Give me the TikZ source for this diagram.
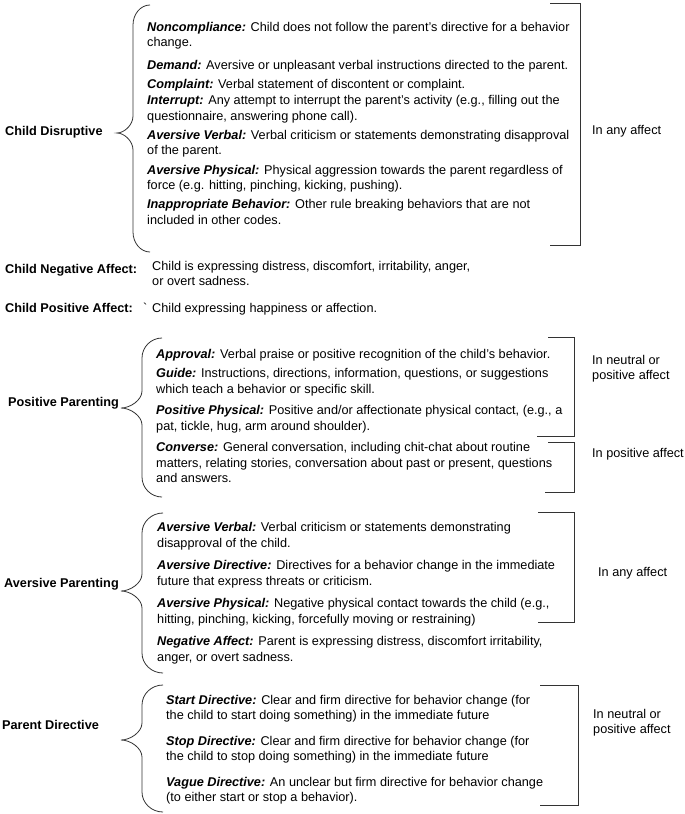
\documentclass[tikz,border=0pt]{standalone}
\usepackage{fontspec}
\setmainfont{Liberation Sans}
\newfontfamily\rawfont{Liberation Sans}
\newcommand\kterm[1]{\textbf{\textit{#1}}}
\newcommand\cbrace[6]{% E V T yt ym yb
  \draw[ln] (#1,#4) .. controls ({#2+0.45*(#1-#2)},#4) and (#2,{#4+9}) .. (#2,{#4+20})
    -- (#2,{#5-17}) .. controls (#2,{#5-8}) and ({#3+0.45*(#2-#3)},#5) .. (#3,#5)
    .. controls ({#3+0.45*(#2-#3)},#5) and (#2,{#5+8}) .. (#2,{#5+17})
    -- (#2,{#6-20}) .. controls (#2,{#6-9}) and ({#2+0.45*(#1-#2)},#6) .. (#1,#6);}
\newcommand\rbracket[5]{% xl-top xl-bottom xv yt yb
  \draw[ln] (#1,#4) -- (#3,#4) -- (#3,#5) -- (#2,#5);}
\begin{document}
\begin{tikzpicture}[x=1bp,y=-1bp,
  txt/.style={anchor=north west,inner sep=0pt,align=left,
    font=\fontsize{12.7bp}{15.5bp}\selectfont,
    execute at begin node=\rule{0pt}{12bp}},
  lbl/.style={txt,font=\fontsize{12.7bp}{15.5bp}\selectfont\bfseries},
  ln/.style={line width=0.8bp,draw=black!80}]
\useasboundingbox (0,0) rectangle (685,814);
\fill[white] (0,0) rectangle (685,814);

% ---------- Child Disruptive ----------
\node[lbl] (cdl) at (5,{135-12}) {Child Disruptive};
\cbrace{150}{133}{117}{5}{133}{252}
\node[txt] (cd1) at (147,{34-12}) {\kterm{Noncompliance:} Child does not follow the parent’s directive for a behavior\\change.};
\node[txt] (cd2) at (147,{69-12}) {\kterm{Demand:} Aversive or unpleasant verbal instructions directed to the parent.};
\node[txt] (cd3) at (147,{88-12}) {\kterm{Complaint:} Verbal statement of discontent or complaint.};
\node[txt] (cd4) at (147,{107.5-12}) {\kterm{Interrupt:} Any attempt to interrupt the parent’s activity (e.g., filling out the\\questionnaire, answering phone call).};
\node[txt] (cd5) at (147,{142-12}) {\kterm{Aversive Verbal:} Verbal criticism or statements demonstrating disapproval\\of the parent.};
\node[txt] (cd6) at (147,{177-12}) {\kterm{Aversive Physical:} Physical aggression towards the parent regardless of\\force (e.g. hitting, pinching, kicking, pushing).};
\node[txt] (cd7) at (147,{211.5-12}) {\kterm{Inappropriate Behavior:} Other rule breaking behaviors that are not\\included in other codes.};
\rbracket{550}{550}{580}{3}{245}
\node[txt] (cda) at (592,{134-12}) {In any affect};

% ---------- Child affect ----------
\node[lbl] (cnl) at (5,{273-12}) {Child Negative Affect:};
\node[txt] (cnt) at (152,{273-12}) {Child is expressing distress, discomfort, irritability, anger,\\or overt sadness.};
\node[lbl] (cpl) at (5,{312-12}) {Child Positive Affect:};
\node[txt] (cpg) at (143,{312-12}) {{\rawfont\symbol{96}}};
\node[txt] (cpt) at (152,{312-12}) {Child expressing happiness or affection.};

% ---------- Positive Parenting ----------
\node[lbl] (ppl) at (8,{406-12}) {Positive Parenting};
\cbrace{162}{142}{121}{338}{408}{497}
\node[txt] (pp1) at (156,{358.5-12}) {\kterm{Approval:} Verbal praise or positive recognition of the child’s behavior.};
\node[txt] (pp2) at (156,{380.5-12}) {\kterm{Guide:} Instructions, directions, information, questions, or suggestions\\which teach a behavior or specific skill.};
\node[txt] (pp3) at (156,{417.5-12}) {\kterm{Positive Physical:} Positive and/or affectionate physical contact, (e.g., a\\pat, tickle, hug, arm around shoulder).};
\node[txt] (pp4) at (156,{454.5-12}) {\kterm{Converse:} General conversation, including chit-chat about routine\\matters, relating stories, conversation about past or present, questions\\and answers.};
\rbracket{548}{537}{574}{337}{436}
\rbracket{548}{545}{574}{442}{492}
\node[txt] (ppa) at (592,{367-12}) {In neutral or\\positive affect};
\node[txt] (ppb) at (592,{457-12}) {In positive affect};

% ---------- Aversive Parenting ----------
\node[lbl] (apl) at (4,{587-12}) {Aversive Parenting};
\cbrace{163}{142}{121}{513}{591}{673}
\node[txt] (ap1) at (157,{534.5-12}) {\kterm{Aversive Verbal:} Verbal criticism or statements demonstrating\\disapproval of the child.};
\node[txt] (ap2) at (157,{572.5-12}) {\kterm{Aversive Directive:} Directives for a behavior change in the immediate\\future that express threats or criticism.};
\node[txt] (ap3) at (157,{610.5-12}) {\kterm{Aversive Physical:} Negative physical contact towards the child (e.g.,\\hitting, pinching, kicking, forcefully moving or restraining)};
\node[txt] (ap4) at (157,{648.5-12}) {\kterm{Negative Affect:} Parent is expressing distress, discomfort irritability,\\anger, or overt sadness.};
\rbracket{538}{538}{574}{512}{622}
\node[txt] (apa) at (598,{576-12}) {In any affect};

% ---------- Parent Directive ----------
\node[lbl] (pdl) at (2,{729-12}) {Parent Directive};
\cbrace{163}{142}{121}{685}{740}{812}
\node[txt] (pd1) at (166,{707-12}) {\kterm{Start Directive:} Clear and firm directive for behavior change (for\\the child to start doing something) in the immediate future};
\node[txt] (pd2) at (166,{748-12}) {\kterm{Stop Directive:} Clear and firm directive for behavior change (for\\the child to stop doing something) in the immediate future};
\node[txt] (pd3) at (166,{789-12}) {\kterm{Vague Directive:} An unclear but firm directive for behavior change\\(to either start or stop a behavior).};
\rbracket{540}{540}{578}{685}{805}
\node[txt] (pda) at (593,{721-12}) {In neutral or\\positive affect};
\end{tikzpicture}
\end{document}
